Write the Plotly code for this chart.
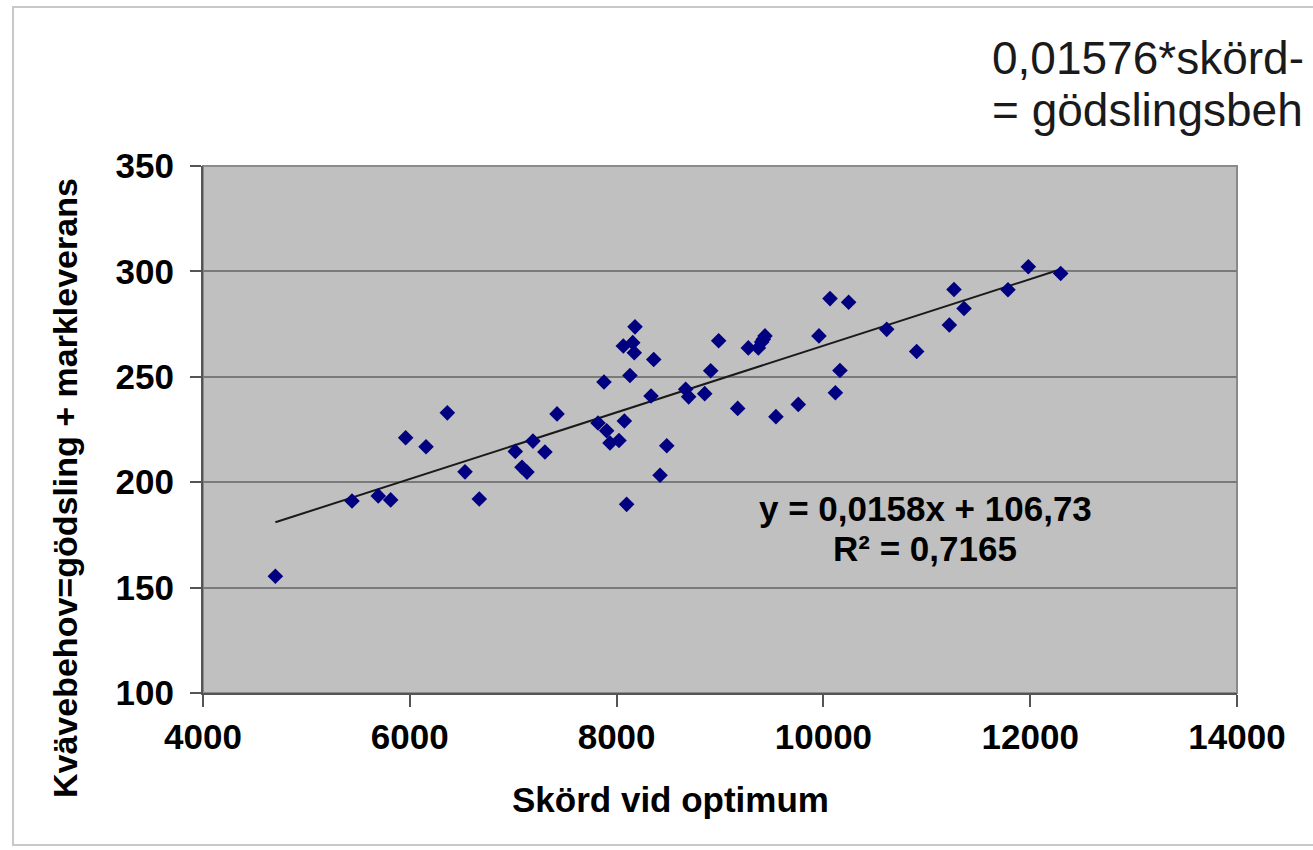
import plotly.graph_objects as go

# Data
skord = [4700, 5441, 5695, 5815, 5960, 6157, 6363, 6534, 6672, 7020,
         7085, 7133, 7191, 7307, 7424, 7820, 7878, 7904, 7936, 8023,
         8075, 8065, 8156, 8171, 8178, 8129, 8097, 8333, 8359, 8420,
         8485, 8668, 8697, 8852, 8910, 8987, 9171, 9274, 9371, 9403,
         9419, 9435, 9541, 9757, 9957, 10064, 10116, 10160, 10244, 10612,
         10902, 11263, 11218, 11360, 11785, 11982, 12295]
kvavebehov = [155.4, 191.1, 193.5, 191.6, 221.1, 216.8, 232.9, 204.9, 192.0, 214.6,
              207.1, 204.8, 219.5, 214.3, 232.4, 228.1, 247.5, 224.4, 218.6, 219.8,
              229.0, 264.6, 266.2, 261.4, 273.7, 250.6, 189.5, 240.9, 258.2, 203.3,
              217.3, 244.1, 240.5, 242.0, 252.9, 267.1, 235.0, 263.7, 263.7, 266.5,
              267.8, 269.4, 231.1, 236.9, 269.4, 287.1, 242.4, 253.0, 285.4, 272.5,
              262.0, 291.4, 274.6, 282.4, 291.3, 302.2, 299.0]

slope = 0.0158
intercept = 106.73
x_ticks = [4000, 6000, 8000, 10000, 12000, 14000]
x_tick_labels = ["4000", "6000", "8000", "10000", "12000", "14000"]
y_ticks = [100, 150, 200, 250, 300, 350]
y_tick_labels = ["100", "150", "200", "250", "300", "350"]

x_title = "Skörd vid optimum"
y_title = "Kvävebehov=gödsling + markleverans"
eq_line1 = "y = 0,0158x + 106,73"
eq_line2 = "R² = 0,7165"
note_line1 = "0,01576*skörd-"
note_line2 = "= gödslingsbeh"

FONT = "Arial, Liberation Sans, sans-serif"

trend_x = [min(skord), max(skord)]
trend_y = [slope * v + intercept for v in trend_x]

fig = go.Figure()
fig.add_trace(go.Scatter(
    x=trend_x, y=trend_y, mode="lines",
    line=dict(color="#1a1a1a", width=2), hoverinfo="skip", showlegend=False))
fig.add_trace(go.Scatter(
    x=skord, y=kvavebehov, mode="markers",
    marker=dict(symbol="diamond", size=12, color="#000080",
                line=dict(width=0)),
    showlegend=False))

fig.update_layout(
    width=1313, height=850,
    margin=dict(l=203, r=76, t=166, b=157),
    paper_bgcolor="white",
    plot_bgcolor="#c0c0c0",
    font=dict(family=FONT, color="black"),
    xaxis=dict(range=[4000, 14000], tickvals=x_ticks, ticktext=x_tick_labels,
               showgrid=False, zeroline=False,
               showline=True, linecolor="#555555", linewidth=2, mirror=False,
               ticks="outside", ticklen=12, tickwidth=1.5, tickcolor="#555555",
               tickfont=dict(size=35, family=FONT, weight="bold", color="black"),
               ticklabelstandoff=0),
    yaxis=dict(range=[100, 350], tickvals=y_ticks, ticktext=y_tick_labels,
               showgrid=True, gridcolor="#7a7a7a", gridwidth=2,
               zeroline=False,
               showline=True, linecolor="#555555", linewidth=2,
               ticks="outside", ticklen=11, tickwidth=1.5, tickcolor="#555555",
               tickfont=dict(size=35, family=FONT, weight="bold", color="black"),
               ticklabelstandoff=9),
    shapes=[
        # plot area border
        dict(type="rect", xref="paper", yref="paper", x0=0, x1=1, y0=0, y1=1,
             line=dict(color="#8a8a8a", width=2), layer="below"),
        # chart area frame
        dict(type="rect", xref="paper", yref="paper",
             x0=(13 - 203) / 1034, x1=1.2, y0=(693 - 845) / 527, y1=(693 - 7) / 527,
             line=dict(color="#c8c8c8", width=2)),
    ],
    annotations=[
        dict(text=f"<b>{x_title}</b>", xref="paper", yref="paper",
             x=(670 - 203) / 1034, y=(693 - 799) / 527,
             xanchor="center", yanchor="middle", showarrow=False,
             font=dict(size=35, family=FONT, color="black")),
        dict(text=f"<b>{y_title}</b>", xref="paper", yref="paper",
             x=(65 - 203) / 1034, y=(693 - 488) / 527, textangle=-90,
             xanchor="center", yanchor="middle", showarrow=False,
             font=dict(size=34, family=FONT, color="black")),
        dict(text=f"<b>{eq_line1}</b>", xref="paper", yref="paper",
             x=(925 - 203) / 1034, y=(693 - 508) / 527,
             xanchor="center", yanchor="middle", showarrow=False,
             font=dict(size=35, family=FONT, color="black")),
        dict(text=f"<b>{eq_line2}</b>", xref="paper", yref="paper",
             x=(925 - 203) / 1034, y=(693 - 548) / 527,
             xanchor="center", yanchor="middle", showarrow=False,
             font=dict(size=35, family=FONT, color="black")),
        dict(text=note_line1, xref="paper", yref="paper",
             x=(990 - 203) / 1034, y=(693 - 58) / 527,
             xanchor="left", yanchor="middle", showarrow=False,
             font=dict(size=46, family=FONT, color="#1a1a1a")),
        dict(text=note_line2, xref="paper", yref="paper",
             x=(990 - 203) / 1034, y=(693 - 110) / 527,
             xanchor="left", yanchor="middle", showarrow=False,
             font=dict(size=46, family=FONT, color="#1a1a1a")),
    ],
)

fig.write_html("out.html")
